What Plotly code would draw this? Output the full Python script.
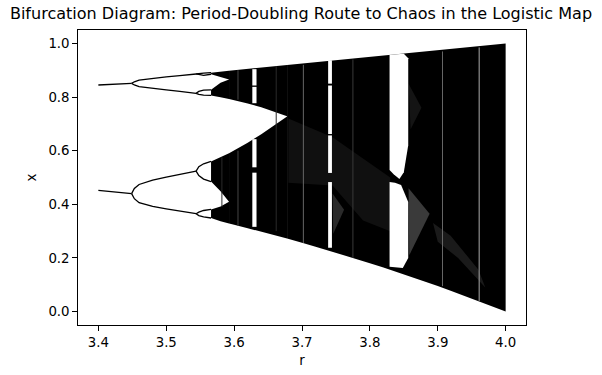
import plotly.graph_objects as go

TITLE = "Bifurcation Diagram: Period-Doubling Route to Chaos in the Logistic Map"
x_ticks = [3.4, 3.5, 3.6, 3.7, 3.8, 3.9, 4.0]
y_ticks = [0.0, 0.2, 0.4, 0.6, 0.8, 1.0]

# Stable branches: (r values, x values)
period2_r = [3.40, 3.42, 3.449]
period2_hi = [0.845, 0.847, 0.851]
period2_lo = [0.452, 0.447, 0.440]
period4_r = [3.449, 3.453, 3.46, 3.48, 3.50, 3.52, 3.544]
p4_a = [0.851, 0.857, 0.863, 0.870, 0.875, 0.880, 0.886]
p4_b = [0.851, 0.845, 0.839, 0.832, 0.827, 0.821, 0.814]
p4_c = [0.440, 0.459, 0.474, 0.490, 0.501, 0.512, 0.524]
p4_d = [0.440, 0.421, 0.406, 0.392, 0.383, 0.374, 0.365]
period8_r = [3.544, 3.548, 3.555, 3.566]
p8_a = [0.886, 0.888, 0.889, 0.891]
p8_b = [0.886, 0.884, 0.881, 0.885]
p8_c = [0.814, 0.821, 0.826, 0.827]
p8_d = [0.814, 0.810, 0.807, 0.806]
p8_e = [0.524, 0.540, 0.551, 0.560]
p8_f = [0.524, 0.507, 0.494, 0.485]
p8_g = [0.365, 0.371, 0.377, 0.381]
p8_h = [0.365, 0.358, 0.353, 0.349]

# Chaotic bands before they merge
early_r = [3.566, 3.58, 3.5925]
band_a_hi = [0.891, 0.895, 0.898]
band_a_lo = [0.885, 0.875, 0.865]
band_c_hi = [0.827, 0.853, 0.865]
band_c_lo = [0.806, 0.799, 0.7925]
band_d_hi = [0.560, 0.575, 0.5905]
band_d_lo = [0.485, 0.449, 0.410]
band_b_hi = [0.381, 0.392, 0.410]
band_b_lo = [0.349, 0.3364, 0.3287]

# Two bands around the white wedge
wedge_r = [3.5925, 3.60, 3.62, 3.64, 3.66, 3.678]
upper_top = [0.898, 0.900, 0.905, 0.910, 0.915, 0.9195]
upper_low = [0.7925, 0.788, 0.776, 0.762, 0.745, 0.7285]
lower_top = [0.5905, 0.601, 0.630, 0.661, 0.695, 0.7275]
lower_low = [0.3287, 0.324, 0.311, 0.298, 0.285, 0.2722]

# Merged envelope
hull_r = [3.678, 3.70, 3.72, 3.74, 3.76, 3.78, 3.80, 3.82, 3.84, 3.86, 3.88, 3.90, 3.92, 3.94, 3.96, 3.98, 4.00]
hull_top = [0.9195, 0.925, 0.930, 0.935, 0.940, 0.945, 0.950, 0.955, 0.960, 0.965, 0.970, 0.975, 0.980, 0.985, 0.990, 0.995, 1.000]
hull_low = [0.2722, 0.2567, 0.2422, 0.2273, 0.2121, 0.1965, 0.1805, 0.1642, 0.1475, 0.1304, 0.1129, 0.0951, 0.0768, 0.0582, 0.0392, 0.0198, 0.000]

# Sparse, speckled zones (dark grey outlines)
zone_a_r = [3.68, 3.745, 3.83, 3.83, 3.79, 3.745, 3.68]
zone_a_x = [0.72, 0.65, 0.50, 0.30, 0.34, 0.47, 0.48]
zone_b_r = [3.745, 3.762, 3.746]
zone_b_x = [0.44, 0.38, 0.29]
zone_c_r = [3.857, 3.888, 3.858]
zone_c_x = [0.46, 0.365, 0.21]
zone_d_r = [3.893, 3.919, 3.96, 3.97, 3.93, 3.90]
zone_d_x = [0.33, 0.283, 0.156, 0.09, 0.20, 0.26]
zone_e_r = [3.857, 3.876, 3.860]
zone_e_x = [0.85, 0.76, 0.68]

# Periodic windows (white gaps)
w5_r = [3.7385, 3.7441]
w5_top = [0.937, 0.843, 0.657, 0.483]
w5_bot = [0.850, 0.662, 0.517, 0.238]
w6_r = [3.6268, 3.6330]
w6_top = [0.904, 0.838, 0.643, 0.518]
w6_bot = [0.843, 0.777, 0.538, 0.316]

w3_up_r = [3.829, 3.829, 3.835, 3.8435, 3.850, 3.8565, 3.8565, 3.850, 3.829]
w3_up_x = [0.958, 0.528, 0.512, 0.494, 0.520, 0.620, 0.945, 0.961, 0.958]
w3_lo_r = [3.829, 3.837, 3.846, 3.8565, 3.8565, 3.8485, 3.829]
w3_lo_x = [0.483, 0.480, 0.472, 0.409, 0.200, 0.163, 0.167]

# Thin periodic streaks: r, x low, x high, grey
streak_r = [3.582, 3.6057, 3.6057, 3.662, 3.702, 3.775, 3.907, 3.961]
streak_lo = [0.39, 0.32, 0.79, 0.30, 0.256, 0.20, 0.095, 0.040]
streak_hi = [0.575, 0.60, 0.90, 0.915, 0.92, 0.94, 0.97, 0.985]
streak_col = ["#2a2a2a", "#444444", "#444444", "#2a2a2a", "#666666", "#3a3a3a", "#666666", "#aaaaaa"]


def poly(fig, rs, xs, color):
    fig.add_trace(go.Scatter(x=rs, y=xs, mode="lines", fill="toself", fillcolor=color,
                             line=dict(width=0, color=color), hoverinfo="skip", showlegend=False))


def band(fig, rs, hi, lo, color="black"):
    poly(fig, list(rs) + list(rs)[::-1], list(hi) + list(lo)[::-1], color)


def curve(fig, rs, xs, color="black", width=1.3):
    fig.add_trace(go.Scatter(x=rs, y=xs, mode="lines", line=dict(width=width, color=color),
                             hoverinfo="skip", showlegend=False))


fig = go.Figure()
for ys in (period2_hi, period2_lo):
    curve(fig, period2_r, ys)
for ys in (p4_a, p4_b, p4_c, p4_d):
    curve(fig, period4_r, ys)
for ys in (p8_a, p8_b, p8_c, p8_d, p8_e, p8_f, p8_g, p8_h):
    curve(fig, period8_r, ys)
for hi, lo in ((band_a_hi, band_a_lo), (band_c_hi, band_c_lo), (band_d_hi, band_d_lo), (band_b_hi, band_b_lo)):
    band(fig, early_r, hi, lo)
band(fig, wedge_r, upper_top, upper_low)
band(fig, wedge_r, lower_top, lower_low)
band(fig, hull_r, hull_top, hull_low)

for rs, xs, col in ((zone_a_r, zone_a_x, "#101010"), (zone_b_r, zone_b_x, "#2a2a2a"),
                    (zone_c_r, zone_c_x, "#3a3a3a"), (zone_d_r, zone_d_x, "#1a1a1a"),
                    (zone_e_r, zone_e_x, "#141414")):
    poly(fig, rs, xs, col)

for r, lo, hi, col in zip(streak_r, streak_lo, streak_hi, streak_col):
    curve(fig, [r, r], [lo, hi], col, 1)

for hi, lo in zip(w5_top, w5_bot):
    band(fig, w5_r, [hi, hi], [lo, lo], "white")
for hi, lo in zip(w6_top, w6_bot):
    band(fig, w6_r, [hi, hi], [lo, lo], "white")
poly(fig, w3_up_r, w3_up_x, "white")
poly(fig, w3_lo_r, w3_lo_x, "white")

font = dict(family="DejaVu Sans", size=13.33, color="black")
axis = dict(showgrid=False, zeroline=False, showline=True, linecolor="black", linewidth=1.07,
            mirror=True, ticks="outside", ticklen=4.7, tickwidth=1.07, tickcolor="black", tickfont=font,
            automargin=False)
fig.update_layout(
    width=602, height=375, margin=dict(l=78, r=76, t=29.5, b=49.5, pad=0),
    plot_bgcolor="white", paper_bgcolor="white", showlegend=False,
    title=dict(text=TITLE, x=0.5, xanchor="center", y=0.965, yanchor="middle",
               font=dict(family="DejaVu Sans", size=16.05, color="black")),
    xaxis=dict(range=[3.37, 4.03], tickvals=x_ticks, ticktext=[f"{v:.1f}" for v in x_ticks],
               title=dict(text="r", font=font, standoff=6), **axis),
    yaxis=dict(range=[-0.05, 1.05], tickvals=y_ticks, ticktext=[f"{v:.1f}" for v in y_ticks],
               title=dict(text="x", font=font, standoff=8), **axis),
)
fig.write_html("out.html", config={"displayModeBar": False},
               post_script="document.body.style.margin='0';document.documentElement.style.overflow='hidden';")
